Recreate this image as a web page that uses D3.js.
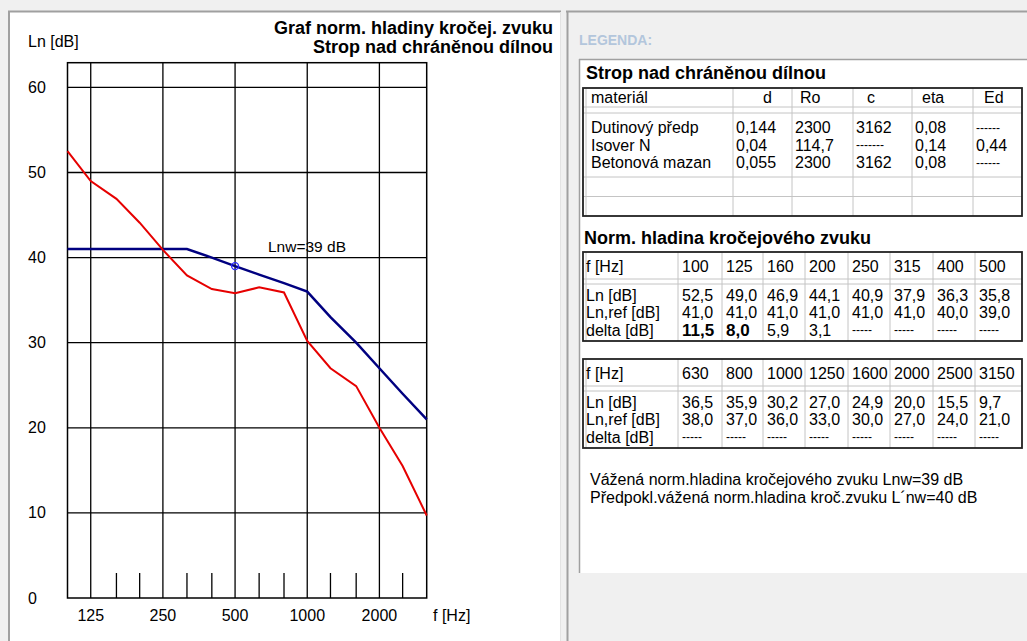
<!DOCTYPE html>
<html>
<head>
<meta charset="utf-8">
<script src="https://cdn.jsdelivr.net/npm/d3@7/dist/d3.min.js"></script>
<style>
  html, body { margin: 0; padding: 0; background: #f0f0f0; }
  svg { display: block; font-family: "Liberation Sans", Arial, sans-serif; }
  .t { font-size: 16px; fill: #000; }
  .b { font-size: 18px; font-weight: bold; fill: #000; }
</style>
</head>
<body>
<svg id="c" width="1027" height="641"></svg>
<script>
// ---------- DATA ----------
const freqs = [100,125,160,200,250,315,400,500,630,800,1000,1250,1600,2000,2500,3150];
const lnValues = [52.5,49.0,46.9,44.1,40.9,37.9,36.3,35.8,36.5,35.9,30.2,27.0,24.9,20.0,15.5,9.7];
const lnRefValues = [41.0,41.0,41.0,41.0,41.0,41.0,40.0,39.0,38.0,37.0,36.0,33.0,30.0,27.0,24.0,21.0];
const deltaValues = [11.5,8.0,5.9,3.1,null,null,null,null,null,null,null,null,null,null,null,null];
const deltaBold = [true,true,false,false,false,false,false,false,false,false,false,false,false,false,false,false];
const yTicks = [0,10,20,30,40,50,60];
const xMajorTicks = [125,250,500,1000,2000];
const xMinorTicks = [160,200,315,400,630,800,1250,1600,2500];
const lnwFreq = 500, lnwValue = 39;
const lnwPrime = 40;
const matHeaders = ["materiál","d","Ro","c","eta","Ed"];
const matNames = ["Dutinový předp","Isover N","Betonová mazan"];
const matD = ["0,144","0,04","0,055"];
const matRo = ["2300","114,7","2300"];
const matC = ["3162","-------","3162"];
const matEta = ["0,08","0,14","0,08"];
const matEd = ["------","0,44","------"];
const chartTitle = ["Graf norm. hladiny kročej. zvuku","Strop nad chráněnou dílnou"];
const constructionName = "Strop nad chráněnou dílnou";

// ---------- HELPERS ----------
const svg = d3.select("#c");
const fmt = v => d3.format(".1f")(v).replace(".", ",");
function line(g, x1, y1, x2, y2, col, w) {
  g.append("line").attr("x1", x1).attr("y1", y1).attr("x2", x2).attr("y2", y2)
    .attr("stroke", col).attr("stroke-width", w);
}
function text(g, x, y, s, cls, anchor) {
  return g.append("text").attr("x", x).attr("y", y).attr("dy", "0.35em")
    .attr("class", cls || "t").attr("text-anchor", anchor || "start").text(s);
}

// ---------- PANELS ----------
svg.append("rect").attr("x", 9).attr("y", 12).attr("width", 551).attr("height", 640).attr("fill", "#fff");
line(svg, 8, 11.5, 561, 11.5, "#a0a0a0", 2);
line(svg, 9, 11, 9, 641, "#a0a0a0", 2);
line(svg, 560.5, 12, 560.5, 641, "#e3e3e3", 1);

line(svg, 566, 11.5, 1027, 11.5, "#a0a0a0", 2);
line(svg, 567.5, 11, 567.5, 641, "#a0a0a0", 2);
svg.append("rect").attr("x", 579).attr("y", 59).attr("width", 448).attr("height", 514).attr("fill", "#fff");
line(svg, 579, 59.5, 1027, 59.5, "#a0a0a0", 1.5);
line(svg, 579.5, 59, 579.5, 573, "#a0a0a0", 1.5);

// ---------- CHART ----------
const x = d3.scaleLog().domain([100, 3150]).range([67.5, 426.7]);
const y = d3.scaleLinear().domain([0, 62.9]).range([598, 62.7]);
const ch = svg.append("g");
const [x0, x1] = x.range(), [yb, yt] = y.range();

yTicks.filter(v => v > 0).forEach(v => line(ch, x0, y(v), x1, y(v), "#000", 1.3));
xMajorTicks.forEach(f => line(ch, x(f), yt, x(f), yb, "#000", 1.3));
xMinorTicks.forEach(f => line(ch, x(f), yb, x(f), yb - 25, "#000", 1.3));
ch.append("rect").attr("x", x0).attr("y", yt).attr("width", x1 - x0).attr("height", yb - yt)
  .attr("fill", "none").attr("stroke", "#000").attr("stroke-width", 1.5);

yTicks.forEach(v => text(ch, 28, y(v), String(v)));
xMajorTicks.forEach(f => text(ch, x(f), 615, String(f), "t", "middle"));
text(ch, 433, 615, "f [Hz]");
text(ch, 28, 41, "Ln [dB]");
text(ch, 553, 28, chartTitle[0], "b", "end");
text(ch, 553, 47, chartTitle[1], "b", "end");

const gen = d3.line().x((d, i) => x(freqs[i])).y(d => y(d));
ch.append("path").attr("d", gen(lnRefValues)).attr("fill", "none")
  .attr("stroke", "#000080").attr("stroke-width", 2.5);
ch.append("path").attr("d", gen(lnValues)).attr("fill", "none")
  .attr("stroke", "#e60000").attr("stroke-width", 2);
ch.append("circle").attr("cx", x(lnwFreq)).attr("cy", y(lnwValue)).attr("r", 3.5)
  .attr("fill", "none").attr("stroke", "#2a2aff").attr("stroke-width", 1.3);
text(ch, 268, 247, "Lnw=" + lnwValue + " dB").style("font-size", "15.5px");

// ---------- LEGEND ----------
const lg = svg.append("g");
text(lg, 579, 40, "LEGENDA:", "b").style("fill", "#b3c6dc").style("font-size", "14px");
text(lg, 586, 73, constructionName, "b");

const LG = "#c4c4c4";
(function () {
  const L = 583, R = 1022, T = 88, B = 216;
  const cols = [L, 733, 792, 853, 912, 973, R];
  const hx = [591, 763, 800, 867, 922, 984];
  line(lg, L, 107, R, 107, LG, 1);
  line(lg, L, 113, R, 113, LG, 1);
  line(lg, L, 177, R, 177, LG, 1);
  line(lg, L, 196.5, R, 196.5, LG, 1);
  cols.slice(1, -1).forEach(c => line(lg, c, T, c, B, LG, 1));
  line(lg, L + 3, T, L + 3, B, LG, 1);
  lg.append("rect").attr("x", L).attr("y", T).attr("width", R - L).attr("height", B - T)
    .attr("fill", "none").attr("stroke", "#222").attr("stroke-width", 1.8);
  matHeaders.forEach((h, i) => text(lg, hx[i], 97.5, h));
  const rowsY = [127.5, 145, 162.5];
  matNames.forEach((n, r) => {
    const vals = [n, matD[r], matRo[r], matC[r], matEta[r], matEd[r]];
    vals.forEach((v, i) => {
      const isDash = /^-+$/.test(v);
      const t = text(lg, i === 0 ? 591 : cols[i] + 3, rowsY[r], v);
      if (isDash) t.style("font-size", "12px");
    });
  });
})();

text(lg, 584, 238, "Norm. hladina kročejového zvuku", "b");

function freqTable(T, startIdx) {
  const L = 583, R = 1022;
  const hb = T + 27, gap = T + 32;
  const rows = [gap + 11, gap + 28.5, gap + 46];
  const B = gap + 57;
  const cols = [L, 678, 722, 763, 805, 848, 890, 933, 975, R];
  line(lg, L, hb, R, hb, LG, 1);
  line(lg, L, gap, R, gap, LG, 1);
  cols.slice(1, -1).forEach(c => line(lg, c, T, c, B, LG, 1));
  line(lg, L + 3, T, L + 3, B, LG, 1);
  lg.append("rect").attr("x", L).attr("y", T).attr("width", R - L).attr("height", B - T)
    .attr("fill", "none").attr("stroke", "#222").attr("stroke-width", 1.8);
  text(lg, 586, T + 14, "f [Hz]");
  text(lg, 586, rows[0], "Ln [dB]");
  text(lg, 586, rows[1], "Ln,ref [dB]");
  text(lg, 586, rows[2], "delta [dB]");
  for (let k = 0; k < 8; k++) {
    const i = startIdx + k, cx = cols[k + 1] + 4;
    text(lg, cx, T + 14, String(freqs[i]));
    text(lg, cx, rows[0], fmt(lnValues[i]));
    text(lg, cx, rows[1], fmt(lnRefValues[i]));
    if (deltaValues[i] == null) {
      text(lg, cx, rows[2], "-----").style("font-size", "12px");
    } else {
      const t = text(lg, cx, rows[2], fmt(deltaValues[i]));
      if (deltaBold[i]) t.style("font-weight", "bold").style("font-size", "17px");
    }
  }
}
freqTable(252, 0);
freqTable(359, 8);

text(lg, 590, 479, "Vážená norm.hladina kročejového zvuku Lnw=" + lnwValue + " dB");
text(lg, 590, 497, "Předpokl.vážená norm.hladina kroč.zvuku L´nw=" + lnwPrime + " dB");
</script>
</body>
</html>
